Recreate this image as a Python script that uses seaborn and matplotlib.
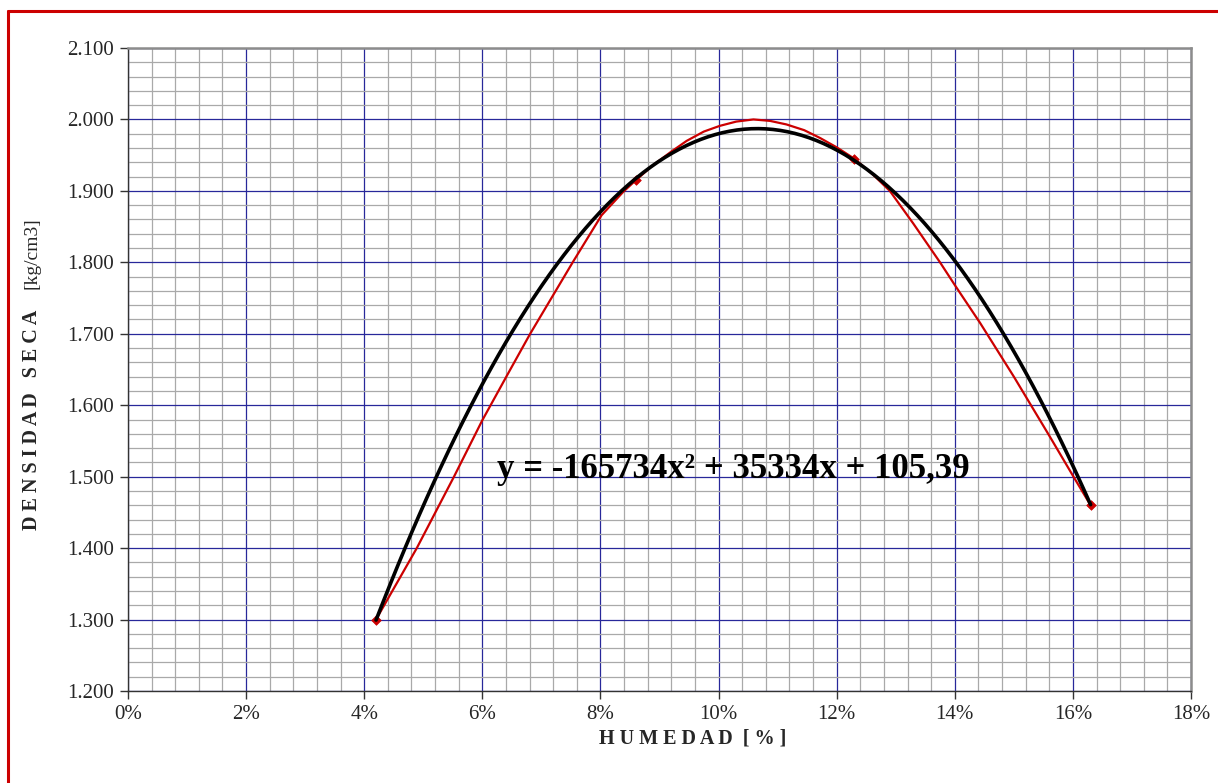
import numpy as np
import pandas as pd
import matplotlib
matplotlib.use("Agg")
import matplotlib.pyplot as plt
import seaborn as sns
from matplotlib.lines import Line2D
from matplotlib.ticker import FuncFormatter, MultipleLocator

# ---- data ----
humedad = [4.2, 8.6, 12.3, 16.3]            # %
densidad = [1.300, 1.915, 1.945, 1.460]     # kg/cm3

# smoothed (red) line through the points
smooth_x = [4.2, 4.89, 5.52, 6.00, 6.44, 6.81, 7.53, 8.02, 8.39, 8.60, 8.89, 9.20, 9.46,
            9.75, 10.02, 10.30, 10.59, 10.87, 11.15, 11.45, 11.72, 12.00, 12.30, 12.60,
            12.90, 13.30, 13.75, 14.01, 14.43, 15.00, 15.61, 16.01, 16.30]
smooth_y = [1.300, 1.400, 1.500, 1.579, 1.645, 1.700, 1.800, 1.866, 1.899, 1.915, 1.936, 1.955, 1.970,
            1.983, 1.991, 1.997, 2.000, 1.998, 1.993, 1.985, 1.974, 1.961, 1.945, 1.924,
            1.900, 1.854, 1.800, 1.767, 1.715, 1.640, 1.556, 1.500, 1.460]

x_ticks = [0, 2, 4, 6, 8, 10, 12, 14, 16, 18]
y_ticks = [1.2, 1.3, 1.4, 1.5, 1.6, 1.7, 1.8, 1.9, 2.0, 2.1]
equation = "y = -165734x\u00b2 + 35334x + 105,39"
xlabel = "H U M E D A D  [ % ]"
ylabel_bold = "D E N S I D A D   S E C A"
ylabel_unit = "[kg/cm3]"

df = pd.DataFrame({"x": humedad, "y": densidad})
df_s = pd.DataFrame({"x": smooth_x, "y": smooth_y})

sns.set_style("white")
plt.rcParams["font.family"] = ["Liberation Serif", "DejaVu Serif"]

W, H = 1218, 783
fig = plt.figure(figsize=(W / 100, H / 100), dpi=100)
ax = fig.add_axes([128 / W, 1 - 691 / H, (1191 - 128) / W, (691 - 48) / H])

# red smoothed line + markers
sns.lineplot(data=df_s, x="x", y="y", sort=False, estimator=None, color="#cc0000",
             linewidth=1.6, ax=ax, zorder=3)
sns.scatterplot(data=df, x="x", y="y", marker="D", color="#cc0000", s=24,
                edgecolor="#cc0000", linewidth=0.5, ax=ax, zorder=4)
# black polynomial trendline (order 2)
sns.regplot(data=df, x="x", y="y", order=2, ci=None, scatter=False, truncate=True,
            line_kws=dict(color="black", linewidth=2.6, zorder=5), ax=ax)

ax.set_xlim(0, 18)
ax.set_ylim(1.2, 2.1)
ax.set_xticks(x_ticks)
ax.set_yticks(y_ticks)
ax.xaxis.set_minor_locator(MultipleLocator(0.4))
ax.yaxis.set_minor_locator(MultipleLocator(0.02))
ax.xaxis.set_major_formatter(FuncFormatter(lambda v, p: f"{v:.0f}%"))
ax.yaxis.set_major_formatter(FuncFormatter(lambda v, p: f"{v:.3f}"))
ax.set_axisbelow(True)
ax.grid(which="minor", color="#a9a9a9", linewidth=0.9)
ax.grid(which="major", color="#28289a", linewidth=0.9)
ax.tick_params(which="minor", length=0)
ax.tick_params(which="major", direction="out", length=6, width=1, color="#333333",
               labelsize=15, pad=4, bottom=True, left=True)
ax.set_xlabel("")
ax.set_ylabel("")
for side in ["top", "right"]:
    ax.spines[side].set_color("#8c8c8c")
    ax.spines[side].set_linewidth(1.8)
for side in ["left", "bottom"]:
    ax.spines[side].set_color("#333333")
    ax.spines[side].set_linewidth(1.0)

# equation text
ax.text(6.25, 1.510, equation, fontsize=25, fontweight="bold", ha="left", va="center",
        color="black", zorder=6)

# axis titles
fig.text(693 / W, 1 - 738 / H, xlabel, fontsize=14.5, fontweight="bold",
         ha="center", va="center")
fig.text(32 / W, 1 - 420 / H, ylabel_bold, fontsize=14.5, fontweight="bold",
         rotation=90, ha="center", va="center")
fig.text(32 / W, 1 - 253 / H, ylabel_unit, fontsize=14, rotation=90,
         ha="center", va="center")

# red frame (top and left edges visible)
fig.add_artist(Line2D([8 / W, 1.01], [1 - 11 / H, 1 - 11 / H], transform=fig.transFigure,
                      color="#cc0000", linewidth=2.2))
fig.add_artist(Line2D([8 / W, 8 / W], [1 - 11 / H, -0.01], transform=fig.transFigure,
                      color="#cc0000", linewidth=2.2))

fig.savefig("out.png", dpi=100)
